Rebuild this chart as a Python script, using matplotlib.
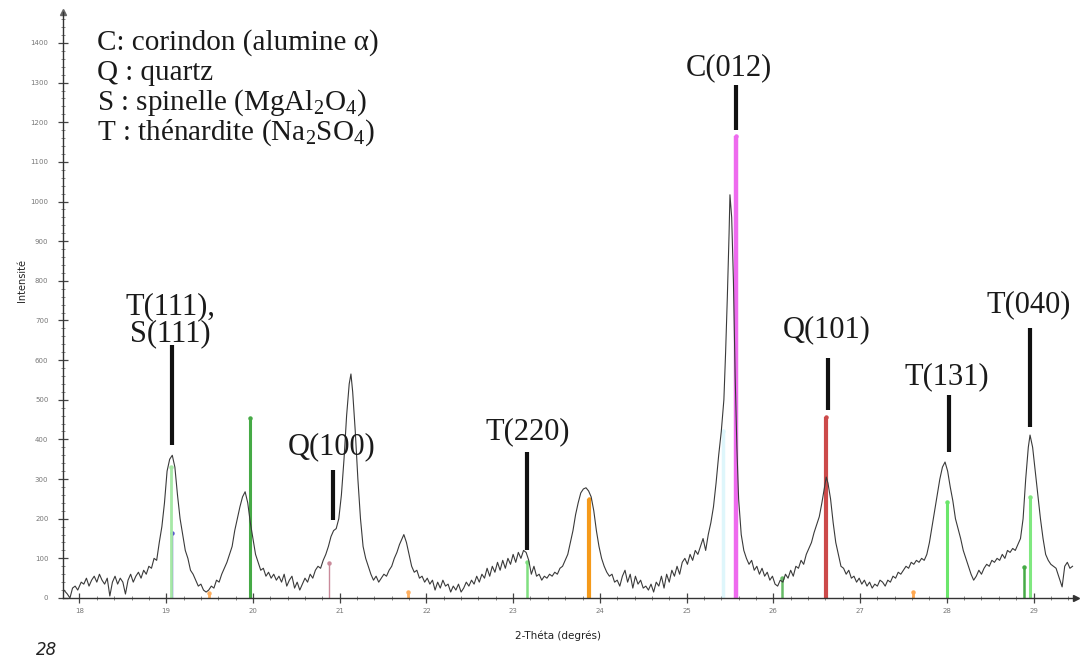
import matplotlib
matplotlib.use("Agg")
import matplotlib.pyplot as plt
from matplotlib.ticker import MultipleLocator

plt.rcParams['mathtext.fontset'] = 'custom'
plt.rcParams['mathtext.rm'] = 'Liberation Serif'
plt.rcParams['mathtext.it'] = 'Liberation Serif:italic'

# ---------------- data ----------------
two_theta = [
    17.82, 17.86, 17.89, 17.92, 17.95, 17.98, 18.02, 18.05, 18.08, 18.11, 18.14, 18.17, 18.20, 18.23, 18.26,
    18.29, 18.32, 18.35, 18.38, 18.41, 18.44, 18.47, 18.50, 18.53, 18.56, 18.59, 18.62, 18.65, 18.68, 18.71,
    18.74, 18.77, 18.80, 18.83, 18.86, 18.89, 18.92, 18.95, 18.98, 19.01, 19.04, 19.07, 19.10, 19.13, 19.16,
    19.19, 19.22, 19.25, 19.28, 19.31, 19.34, 19.37, 19.40, 19.43, 19.46, 19.49, 19.52, 19.55, 19.58, 19.61,
    19.64, 19.67, 19.70, 19.73, 19.76, 19.79, 19.82, 19.85, 19.88, 19.91, 19.94, 19.97, 20.00, 20.03, 20.06,
    20.09, 20.12, 20.15, 20.18, 20.21, 20.24, 20.27, 20.30, 20.33, 20.36, 20.39, 20.42, 20.45, 20.48, 20.51,
    20.54, 20.57, 20.60, 20.63, 20.66, 20.69, 20.72, 20.75, 20.78, 20.81, 20.84, 20.87, 20.90, 20.93, 20.96,
    20.99, 21.02, 21.05, 21.08, 21.11, 21.13, 21.15, 21.18, 21.21, 21.24, 21.27, 21.30, 21.33, 21.36, 21.39,
    21.42, 21.45, 21.48, 21.51, 21.54, 21.57, 21.60, 21.63, 21.66, 21.69, 21.72, 21.74, 21.77, 21.80, 21.83,
    21.86, 21.89, 21.92, 21.95, 21.98, 22.01, 22.04, 22.07, 22.10, 22.13, 22.16, 22.19, 22.22, 22.25, 22.28,
    22.31, 22.34, 22.37, 22.40, 22.43, 22.46, 22.49, 22.52, 22.55, 22.58, 22.61, 22.64, 22.67, 22.70, 22.73,
    22.76, 22.79, 22.82, 22.85, 22.88, 22.91, 22.94, 22.97, 23.00, 23.03, 23.06, 23.09, 23.12, 23.15, 23.18,
    23.21, 23.24, 23.27, 23.30, 23.33, 23.36, 23.39, 23.42, 23.45, 23.48, 23.51, 23.54, 23.57, 23.60, 23.63,
    23.66, 23.69, 23.72, 23.75, 23.78, 23.81, 23.84, 23.87, 23.90, 23.93, 23.96, 23.99, 24.02, 24.05, 24.08,
    24.11, 24.14, 24.17, 24.20, 24.23, 24.26, 24.29, 24.32, 24.35, 24.38, 24.41, 24.44, 24.47, 24.50, 24.53,
    24.56, 24.59, 24.62, 24.65, 24.68, 24.71, 24.74, 24.77, 24.80, 24.83, 24.86, 24.89, 24.92, 24.95, 24.98,
    25.01, 25.04, 25.07, 25.10, 25.13, 25.16, 25.19, 25.22, 25.25, 25.28, 25.31, 25.34, 25.37, 25.40, 25.43,
    25.45, 25.47, 25.49, 25.50, 25.52, 25.54, 25.56, 25.58, 25.60, 25.63, 25.66, 25.69, 25.72, 25.75, 25.78,
    25.81, 25.84, 25.87, 25.90, 25.93, 25.96, 25.99, 26.02, 26.05, 26.08, 26.11, 26.14, 26.17, 26.20, 26.23,
    26.26, 26.29, 26.32, 26.35, 26.38, 26.41, 26.44, 26.47, 26.50, 26.53, 26.56, 26.59, 26.61, 26.63, 26.66,
    26.69, 26.72, 26.75, 26.78, 26.81, 26.84, 26.87, 26.90, 26.93, 26.96, 26.99, 27.02, 27.05, 27.08, 27.11,
    27.14, 27.17, 27.20, 27.23, 27.26, 27.29, 27.32, 27.35, 27.38, 27.41, 27.44, 27.47, 27.50, 27.53, 27.56,
    27.59, 27.62, 27.65, 27.68, 27.71, 27.74, 27.77, 27.80, 27.83, 27.86, 27.89, 27.92, 27.95, 27.98, 28.01,
    28.04, 28.07, 28.10, 28.13, 28.16, 28.19, 28.22, 28.25, 28.28, 28.31, 28.34, 28.37, 28.40, 28.43, 28.46,
    28.49, 28.52, 28.55, 28.58, 28.61, 28.64, 28.67, 28.70, 28.73, 28.76, 28.79, 28.82, 28.85, 28.88, 28.91,
    28.94, 28.96, 28.99, 29.02, 29.05, 29.08, 29.11, 29.14, 29.17, 29.20, 29.23, 29.26, 29.29, 29.33, 29.36,
    29.39, 29.42, 29.45,
]
intensity = [
    20, 10, 0, 25, 30, 20, 40, 35, 50, 30, 45, 55, 40, 60, 45,
    35, 50, 5, 40, 55, 35, 50, 40, 10, 45, 60, 40, 55, 65, 50,
    70, 60, 80, 75, 100, 95, 140, 180, 240, 320, 350, 360, 330, 260, 200,
    160, 120, 100, 70, 60, 45, 30, 35, 20, 15, 20, 30, 25, 45, 40,
    60, 75, 90, 110, 130, 170, 200, 230, 255, 268, 240, 190, 150, 110, 90,
    70, 75, 55, 65, 50, 60, 45, 55, 40, 60, 30, 45, 55, 25, 40,
    20, 35, 50, 40, 60, 50, 70, 80, 75, 95, 110, 130, 155, 170, 175,
    200, 260, 350, 460, 540, 565, 520, 420, 300, 200, 130, 100, 80, 60, 45,
    55, 40, 50, 60, 55, 70, 80, 100, 115, 135, 150, 160, 140, 110, 80,
    65, 70, 50, 55, 40, 50, 35, 45, 20, 40, 25, 45, 30, 35, 15,
    30, 20, 35, 15, 25, 40, 30, 45, 35, 55, 40, 60, 50, 75, 55,
    80, 65, 90, 70, 95, 75, 100, 85, 110, 90, 115, 100, 120, 115, 95,
    60, 80, 55, 60, 45, 55, 50, 60, 55, 65, 60, 75, 80, 95, 110,
    140, 170, 210, 240, 265, 275, 278, 270, 255, 220, 170, 130, 100, 80, 65,
    55, 60, 40, 45, 30, 55, 70, 40, 60, 25, 55, 35, 45, 25, 30,
    20, 35, 15, 40, 30, 55, 25, 60, 40, 70, 55, 80, 60, 90, 100,
    85, 110, 95, 120, 110, 130, 150, 120, 160, 190, 230, 290, 360, 420, 500,
    620, 760, 920, 1017, 960, 800, 560, 380, 250, 160, 120, 100, 85, 95, 70,
    80, 60, 75, 55, 65, 45, 55, 35, 30, 45, 40, 60, 50, 70, 55,
    80, 75, 95, 85, 110, 125, 140, 165, 185, 205, 240, 280, 305, 290, 250,
    190, 140, 110, 80, 75, 60, 70, 50, 55, 40, 50, 35, 45, 30, 40,
    25, 35, 30, 45, 40, 30, 45, 40, 55, 50, 65, 60, 70, 80, 75,
    90, 85, 95, 90, 100, 95, 110, 140, 180, 220, 260, 300, 330, 343, 320,
    280, 245, 200, 175, 150, 120, 100, 80, 60, 45, 55, 70, 60, 75, 85,
    80, 95, 90, 100, 95, 110, 100, 120, 115, 125, 120, 135, 150, 200, 300,
    380, 411, 380, 320, 260, 200, 150, 110, 95, 85, 80, 75, 55, 28, 80,
    90, 75, 80,
]

# reference (phase) sticks
stick_pos = [19.07, 19.05, 19.97, 20.88, 19.49, 21.79, 23.16, 23.88, 25.42, 25.57, 26.10, 26.61, 27.61, 28.00, 28.89, 28.96]
stick_height = [165, 330, 455, 88, 12, 15, 90, 250, 420, 1165, 50, 457, 15, 242, 78, 255]
stick_color = ['#5a5acc', '#a6e8a6', '#46aa46', '#c98a9a', '#ffb060', '#ffb060', '#80e080', '#f59a1a',
               '#def6fb', '#ee6aee', '#66bb66', '#cc4a4a', '#ffa850', '#6be66b', '#46aa46', '#80e880']
stick_width = [1.0, 2.0, 2.2, 1.0, 2.0, 2.0, 1.8, 3.0, 2.5, 3.2, 1.8, 3.0, 2.0, 2.2, 1.8, 2.2]

# peak labels
peak_labels = ['T(111),\nS(111)', 'Q(100)', 'T(220)', 'C(012)', 'Q(101)', 'T(131)', 'T(040)']
peak_pos = [19.07, 20.92, 23.16, 25.57, 26.63, 28.02, 28.96]
marker_low = [386, 197, 120, 1180, 474, 368, 431]
marker_high = [638, 323, 368, 1294, 605, 512, 681]
label_x = [19.05, 20.91, 23.17, 25.49, 26.62, 28.00, 28.94]
label_y = [701, 381, 419, 1337, 676, 557, 739]

x_ticks = [18, 19, 20, 21, 22, 23, 24, 25, 26, 27, 28, 29]
y_ticks = [0, 100, 200, 300, 400, 500, 600, 700, 800, 900, 1000, 1100, 1200, 1300, 1400]

legend_lines = ['C: corindon (alumine α)',
                'Q : quartz',
                r'S : spinelle (MgAl$_\mathregular{2}$O$_\mathregular{4}$)',
                r'T : thénardite (Na$_\mathregular{2}$SO$_\mathregular{4}$)']

# ---------------- figure ----------------
fig = plt.figure(figsize=(10.82, 6.59), dpi=100)
ax = fig.add_axes([63 / 1082, 1 - 598 / 659, (1076 - 63) / 1082, (598 - 12) / 659])
ax.set_xlim(17.81, 29.49)
ax.set_ylim(0, 1478)

for p, h, c, w in zip(stick_pos, stick_height, stick_color, stick_width):
    ax.vlines(p, 0, h, colors=c, linewidth=w, zorder=2)
    ax.plot([p], [h], marker='o', markersize=2.2, color=c, zorder=2)

ax.plot(two_theta, intensity, color='#3a3a3a', linewidth=0.8, zorder=3)

for lab, p, lo, hi, lx, ly in zip(peak_labels, peak_pos, marker_low, marker_high, label_x, label_y):
    ax.vlines(p, lo, hi, colors='#111111', linewidth=3.0, zorder=4)
    ax.text(lx, ly, lab, family='Liberation Serif', fontsize=22, ha='center', va='center',
            linespacing=0.92, color='#1a1a1a', zorder=5)

for i, line in enumerate(legend_lines):
    fig.text(97 / 1082, 1 - (43 + i * 30) / 659, line, family='Liberation Serif', fontsize=21,
             ha='left', va='center', color='#1a1a1a')

# axes styling
for s in ['top', 'right']:
    ax.spines[s].set_visible(False)
for s in ['left', 'bottom']:
    ax.spines[s].set_color('#333333')
    ax.spines[s].set_linewidth(1.0)
ax.set_xticks(x_ticks)
ax.set_yticks(y_ticks)
ax.xaxis.set_minor_locator(MultipleLocator(0.2))
ax.yaxis.set_minor_locator(MultipleLocator(20))
ax.tick_params(which='major', direction='inout', length=7, width=0.9, color='#444444',
               labelsize=5, labelcolor='#777777')
ax.tick_params(which='minor', direction='inout', length=3.5, width=0.6, color='#777777')
ax.tick_params(axis='y', which='major', pad=7)
ax.tick_params(axis='x', which='major', pad=4)

# arrows at axis ends
ax.plot([1], [0], marker='>', markersize=5, color='#333333', transform=ax.transAxes, clip_on=False)
ax.plot([0], [1], marker='^', markersize=4, color='#666666', transform=ax.transAxes, clip_on=False)

fig.text(558 / 1082, 1 - 636 / 659, '2-Théta (degrés)', fontsize=7.5, ha='center', va='center', color='#222222')
fig.text(22 / 1082, 1 - 280 / 659, 'Intensité', fontsize=7, rotation=90, ha='center', va='center', color='#222222')
fig.text(47 / 1082, 1 - 650 / 659, '28', fontsize=12, style='italic', ha='center', va='center', color='#222222')

fig.savefig('out.png', dpi=100)
